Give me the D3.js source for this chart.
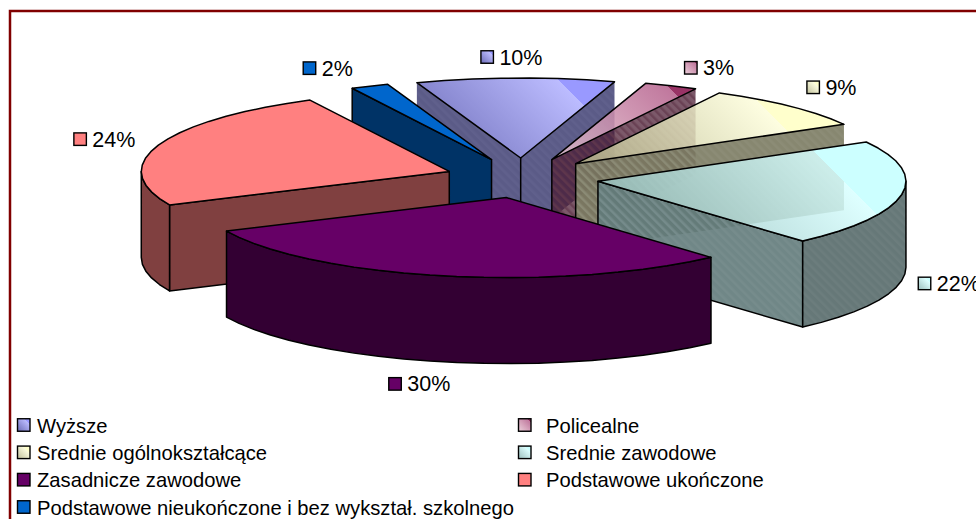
<!DOCTYPE html>
<html>
<head>
<meta charset="utf-8">
<script src="https://cdn.jsdelivr.net/npm/d3@7"></script>
<style>
  html, body { margin: 0; background: #fff; }
  svg { display: block; }
  text { font-family: "Liberation Sans", Arial, sans-serif; fill: #000; }
  .labels text { font-size: 21.5px; }
  .legend text { font-size: 20.2px; }
</style>
</head>
<body>
<svg id="chart" width="976" height="519"></svg>
<script>
// values, they round to the printed percentages
const categories = [
  'Wyższe',
  'Policealne',
  'Srednie ogólnokształcące',
  'Srednie zawodowe',
  'Zasadnicze zawodowe',
  'Podstawowe ukończone',
  'Podstawowe nieukończone i bez wykształ. szkolnego'
];
const shares = [10.4, 2.8, 9.1, 21.6, 29.7, 24.4, 2];
const colors = ['#9999ff', '#993366', '#ffffcc', '#ccffff', '#660066', '#ff8080', '#0066cc'];

// the four back slices have a see-through gradient on top
const glassFrom = ['#5050a8', '#e8c8d4', '#b5b58a', '#8ab4b1'];
const glassTo = ['#b0b0ff', '#b5608c', '#fdfddb', '#d8ffff'];
const glassBand = [0.79, 0.86, 0.72, 0.75];
const wallAlpha = [0.9, 0.72, 0.9, 0.9];
// the order the slices get painted, back to front
const paintOrder = [0, 1, 2, 3, 6, 5, 4];

// px from the slice's rim point to its label
const labelNudge = [[-35, -21], [13, -18], [16, -19], [16, 89], [-55, 108], [-85, -6], [-67, -18]];

const width = 976, height = 519;
const cx = 522, cy = 178, rx = 308, ry = 80, depth = 86;
const explode = 0.25;
const deg = Math.PI / 180;

const svg = d3.select('#chart');
const defs = svg.append('defs');

// unit circle -> tilted plane
const xScale = d3.scaleLinear().domain([-1, 1]).range([cx - rx, cx + rx]);
const yScale = d3.scaleLinear().domain([-1, 1]).range([cy + ry, cy - ry]);

const pie = d3.pie().sort(null).startAngle(-19.7 * deg).endAngle(340.3 * deg);
const slices = pie(shares).map(function(d) {
  d.mid = (d.startAngle + d.endAngle) / 2;
  d.ox = explode * Math.sin(d.mid);
  d.oy = explode * Math.cos(d.mid);
  return d;
});

function rim(d, a) {
  return [xScale(d.ox + Math.sin(a)), yScale(d.oy + Math.cos(a))];
}
function apex(d) {
  return [xScale(d.ox), yScale(d.oy)];
}
function drop(p) {
  return [p[0], p[1] + depth];
}
// slightly coarse steps, the rim in the picture is not perfectly smooth
function rimAngles(a0, a1) {
  const n = Math.max(1, Math.round((a1 - a0) / (5 * deg)));
  return d3.range(n + 1).map(function(k) { return a0 + (a1 - a0) * k / n; });
}
const line = d3.line();
function closed(points) { return line(points) + 'Z'; }

function mix(c, other, t) { return d3.interpolateRgb(c, other)(t); }

function stripes(id, base, alpha) {
  const p = defs.append('pattern')
    .attr('id', id)
    .attr('patternUnits', 'userSpaceOnUse')
    .attr('width', 6).attr('height', 6)
    .attr('patternTransform', 'rotate(-45)');
  p.append('rect').attr('width', 6).attr('height', 6).attr('fill', base).attr('fill-opacity', alpha);
  p.append('rect').attr('width', 2.5).attr('height', 6).attr('fill', mix(base, '#fff', 0.14)).attr('fill-opacity', alpha);
}

function glassGradient(id, i, box) {
  // runs along the "/" diagonal, ends in a hard band of the plain colour
  const g = defs.append('linearGradient')
    .attr('id', id)
    .attr('gradientUnits', box ? 'userSpaceOnUse' : 'objectBoundingBox');
  if (box) {
    const span = ((box[2] - box[0]) + (box[3] - box[1])) / 2;
    g.attr('x1', box[0]).attr('y1', box[3])
      .attr('x2', box[0] + span).attr('y2', box[3] - span);
  } else {
    g.attr('x1', 0).attr('y1', 1).attr('x2', 1).attr('y2', 0);
  }
  g.append('stop').attr('offset', 0).attr('stop-color', glassFrom[i]).attr('stop-opacity', 0.85);
  g.append('stop').attr('offset', glassBand[i]).attr('stop-color', glassTo[i]).attr('stop-opacity', 0.85);
  g.append('stop').attr('offset', glassBand[i]).attr('stop-color', colors[i]).attr('stop-opacity', 1);
  g.append('stop').attr('offset', 1).attr('stop-color', colors[i]).attr('stop-opacity', 1);
}

const plot = svg.append('g').attr('class', 'slices');

paintOrder.forEach(function(i) {
  const d = slices[i];
  const glass = i < glassFrom.length;
  const wallColor = mix(colors[i], '#000', 0.5);
  const a = apex(d);
  const start = rim(d, d.startAngle);
  const end = rim(d, d.endAngle);

  let sideFill = wallColor, outerFill = wallColor;
  if (glass) {
    stripes('side' + i, mix(wallColor, '#000', 0.05), wallAlpha[i]);
    stripes('outer' + i, mix(wallColor, '#000', 0.17), wallAlpha[i]);
    sideFill = 'url(#side' + i + ')';
    outerFill = 'url(#outer' + i + ')';
  }
  // the first three have no outline on the far wall edges, they show as ghosts
  const wallStroke = i < 3 ? 'none' : '#000';

  const g = plot.append('g').attr('class', 'slice');

  function addWall(path, fill) {
    g.append('path').attr('d', path).attr('fill', fill)
      .attr('stroke', wallStroke).attr('stroke-width', 1.5).attr('stroke-linejoin', 'round');
  }

  // cut faces, only where they turn towards the viewer
  if (Math.cos(d.startAngle - Math.PI / 2) < 0) {
    addWall(closed([a, start, drop(start), drop(a)]), sideFill);
  }
  if (Math.cos(d.endAngle + Math.PI / 2) < 0) {
    addWall(closed([a, end, drop(end), drop(a)]), sideFill);
  }
  // outer wall, front half only
  const from = Math.max(d.startAngle, 90 * deg);
  const to = Math.min(d.endAngle, 270 * deg);
  if (to > from) {
    const upper = rimAngles(from, to).map(function(t) { return rim(d, t); });
    addWall(closed(upper.concat(upper.map(drop).reverse())), outerFill);
  }
  if (i < 3) {
    g.append('path').attr('d', line([a, drop(a)]))
      .attr('stroke', '#000').attr('stroke-width', 1.5);
  }

  // top face
  const rimPoints = rimAngles(d.startAngle, d.endAngle).map(function(t) { return rim(d, t); });
  const topPoints = [a].concat(rimPoints);
  let topFill = colors[i];
  if (glass) {
    const xs = d3.extent(topPoints, function(p) { return p[0]; });
    const ys = d3.extent(topPoints, function(p) { return p[1]; });
    glassGradient('top' + i, i, [xs[0], ys[0], xs[1], ys[1]]);
    topFill = 'url(#top' + i + ')';
  }
  g.append('path').attr('d', closed(topPoints)).attr('fill', topFill)
    .attr('stroke', '#000').attr('stroke-width', 1.5).attr('stroke-linejoin', 'round');
});

// chips for labels and legend
colors.forEach(function(c, i) {
  if (i < glassFrom.length) glassGradient('chip' + i, i, null);
});
function chipFill(i) {
  return i < glassFrom.length ? 'url(#chip' + i + ')' : colors[i];
}
function chip(parent, i, x, yMid) {
  parent.append('rect')
    .attr('x', x + 0.5).attr('y', yMid - 6.25)
    .attr('width', 12.5).attr('height', 12.5)
    .attr('fill', chipFill(i))
    .attr('stroke', '#000').attr('stroke-width', 1.4);
}

const labelG = svg.append('g').attr('class', 'labels');
slices.forEach(function(d, i) {
  const p = rim(d, d.mid);
  const x = p[0] + labelNudge[i][0];
  const y = p[1] + labelNudge[i][1];
  chip(labelG, i, x, y);
  labelG.append('text')
    .attr('x', x + 19).attr('y', y + 7.5)
    .text(Math.round(shares[i]) + '%');
});

// legend, two columns filled row by row
const chipCol = d3.scaleOrdinal().domain([0, 1]).range([17, 518]);
const textCol = d3.scaleOrdinal().domain([0, 1]).range([37, 546]);
const legendRow = d3.scalePoint().domain([0, 1, 2, 3]).range([425, 507]);
const legend = svg.append('g').attr('class', 'legend');
categories.forEach(function(name, i) {
  const y = legendRow(Math.floor(i / 2));
  chip(legend, i, chipCol(i % 2), y);
  legend.append('text')
    .attr('x', textCol(i % 2)).attr('y', y + 7.5)
    .text(name);
});

// dark red frame, runs off the right and bottom of the shot
svg.append('rect')
  .attr('x', 10).attr('y', 11)
  .attr('width', width + 20).attr('height', height + 20)
  .attr('fill', 'none')
  .attr('stroke', '#800000').attr('stroke-width', 2.5);
</script>
</body>
</html>
